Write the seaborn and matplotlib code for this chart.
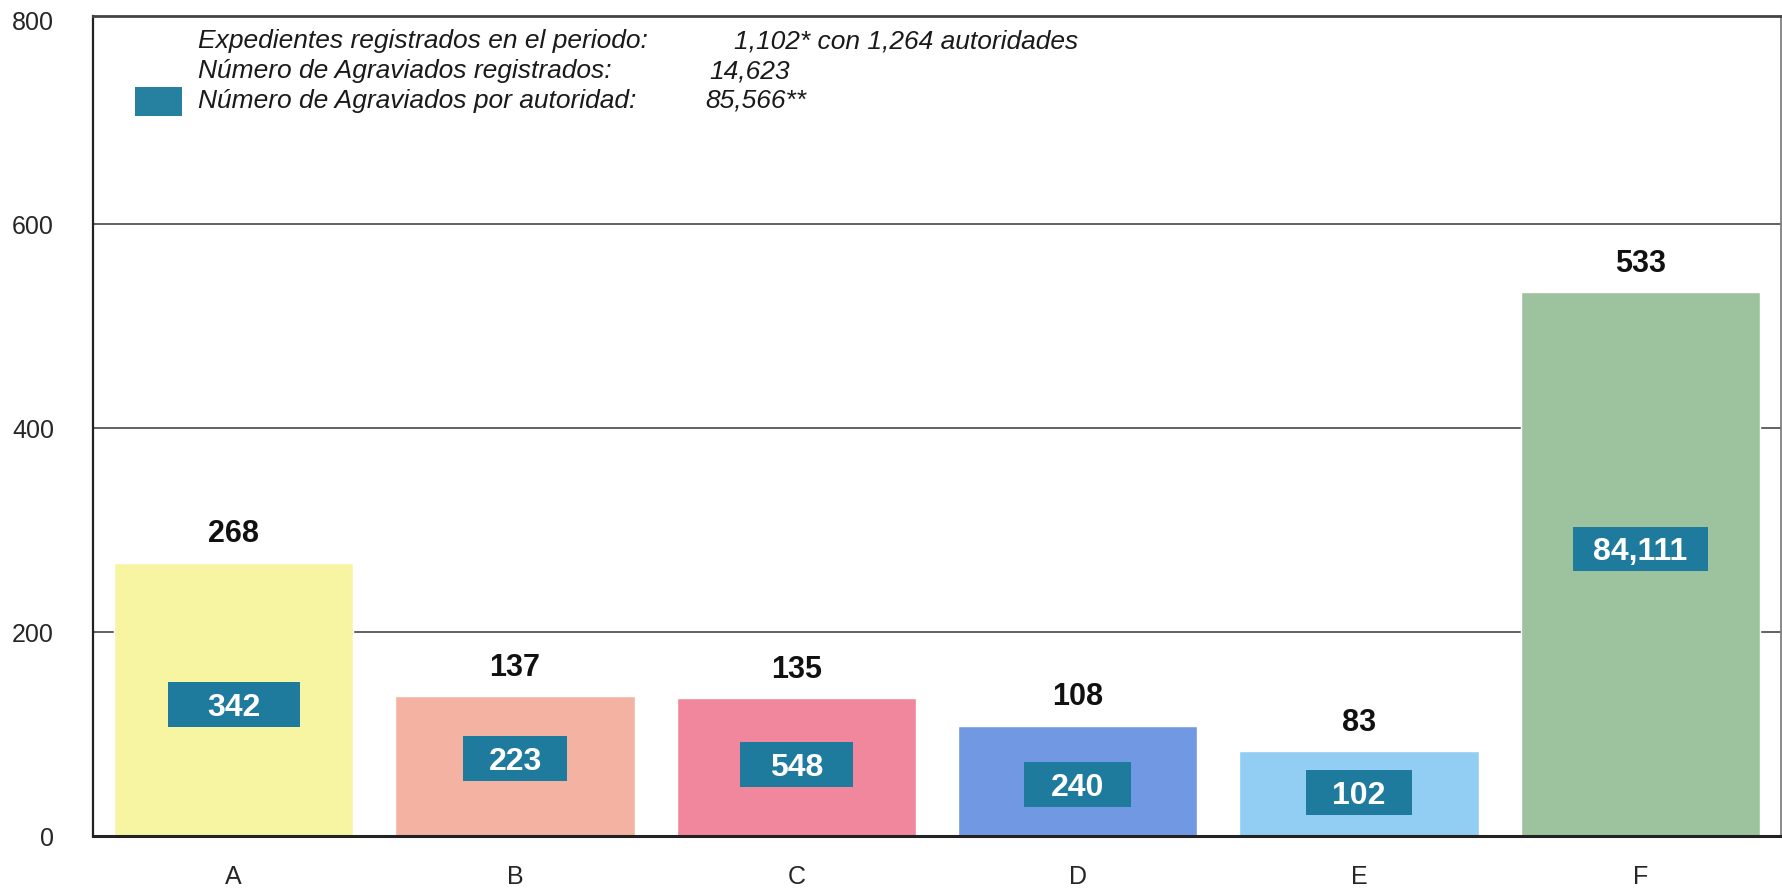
import matplotlib
matplotlib.use("Agg")
import matplotlib.pyplot as plt
import matplotlib.transforms as mtransforms
from matplotlib.patches import Rectangle
import seaborn as sns
import pandas as pd

# ---- data ----
categories = ["A", "B", "C", "D", "E", "F"]
expedientes = [268, 137, 135, 108, 83, 533]
agraviados_por_autoridad = ["342", "223", "548", "240", "102", "84,111"]
yticks = [0, 200, 400, 600, 800]
info_labels = ["Expedientes registrados en el periodo:",
               "Número de Agraviados registrados:",
               "Número de Agraviados por autoridad:"]
info_values = ["1,102* con 1,264 autoridades", "14,623", "85,566**"]

# ---- style ----
bar_colors = ["#f8f5a2", "#f4b2a2", "#f1879c", "#7199e3", "#92cdf4", "#9cc39e"]
box_color = "#1f7b9e"
box_widths = [0.47, 0.37, 0.40, 0.38, 0.38, 0.48]
box_pos_frac = [0.48, 0.555, 0.52, 0.47, 0.51, 0.528]

sns.set_theme(style="white")
FONT = ["Liberation Sans", "DejaVu Sans"]
plt.rcParams["font.family"] = FONT

df = pd.DataFrame({"cat": categories, "val": expedientes})

fig = plt.figure(figsize=(17.82, 8.91), dpi=100)
ax = fig.add_axes([93 / 1782, 55 / 891, (1781 - 93) / 1782, (836 - 16) / 891])

for y in [200, 400, 600]:
    ax.axhline(y, color="#555555", lw=1.3, zorder=0)

sns.barplot(data=df, x="cat", y="val", hue="cat", palette=bar_colors,
            legend=False, width=0.85, saturation=1, ax=ax, zorder=2)

ax.set_xlim(-0.5, 5.5)
ax.set_ylim(0, 804)
ax.set_yticks(yticks)
ax.set_yticklabels([str(t) for t in yticks], fontsize=18)
ax.tick_params(axis="y", length=0, pad=28)
ax.tick_params(axis="x", length=0, pad=21, labelsize=18)
ax.set_xlabel("")
ax.set_ylabel("")

for name, sp in ax.spines.items():
    sp.set_color("#222222")
ax.spines["bottom"].set_linewidth(2.2)
ax.spines["top"].set_linewidth(2.0)
ax.spines["top"].set_color("#444444")
ax.spines["left"].set_linewidth(1.6)
ax.spines["right"].set_linewidth(1.2)
ax.spines["right"].set_color("#777777")

box_h = 44
for i, (v, lab) in enumerate(zip(expedientes, agraviados_por_autoridad)):
    ax.text(i, v + 20, str(v), ha="center", va="baseline",
            fontsize=22, fontweight="bold", color="#111111", zorder=5)
    w = box_widths[i]
    cy = v * box_pos_frac[i]
    ax.add_patch(Rectangle((i - w / 2, cy - box_h / 2), w, box_h,
                           facecolor=box_color, edgecolor="none", zorder=4))
    ax.text(i, cy, lab, ha="center", va="center_baseline", fontsize=23,
            fontweight="bold", color="white", zorder=5)

trans = mtransforms.blended_transform_factory(ax.transAxes, ax.transData)
info_y = [779, 750, 721]
value_x = [0.380, 0.365, 0.363]
for lab, val, y, vx in zip(info_labels, info_values, info_y, value_x):
    ax.text(0.062, y, lab, transform=trans, ha="left", va="center",
            fontsize=19, style="italic", color="#1a1a1a")
    ax.text(vx, y, val, transform=trans, ha="left", va="center",
            fontsize=19, style="italic", color="#1a1a1a")
ax.add_patch(Rectangle((0.025, 706), 0.028, 28, transform=trans,
                       facecolor="#2680a0", edgecolor="none", zorder=5))

fig.savefig("out.png", dpi=100)
